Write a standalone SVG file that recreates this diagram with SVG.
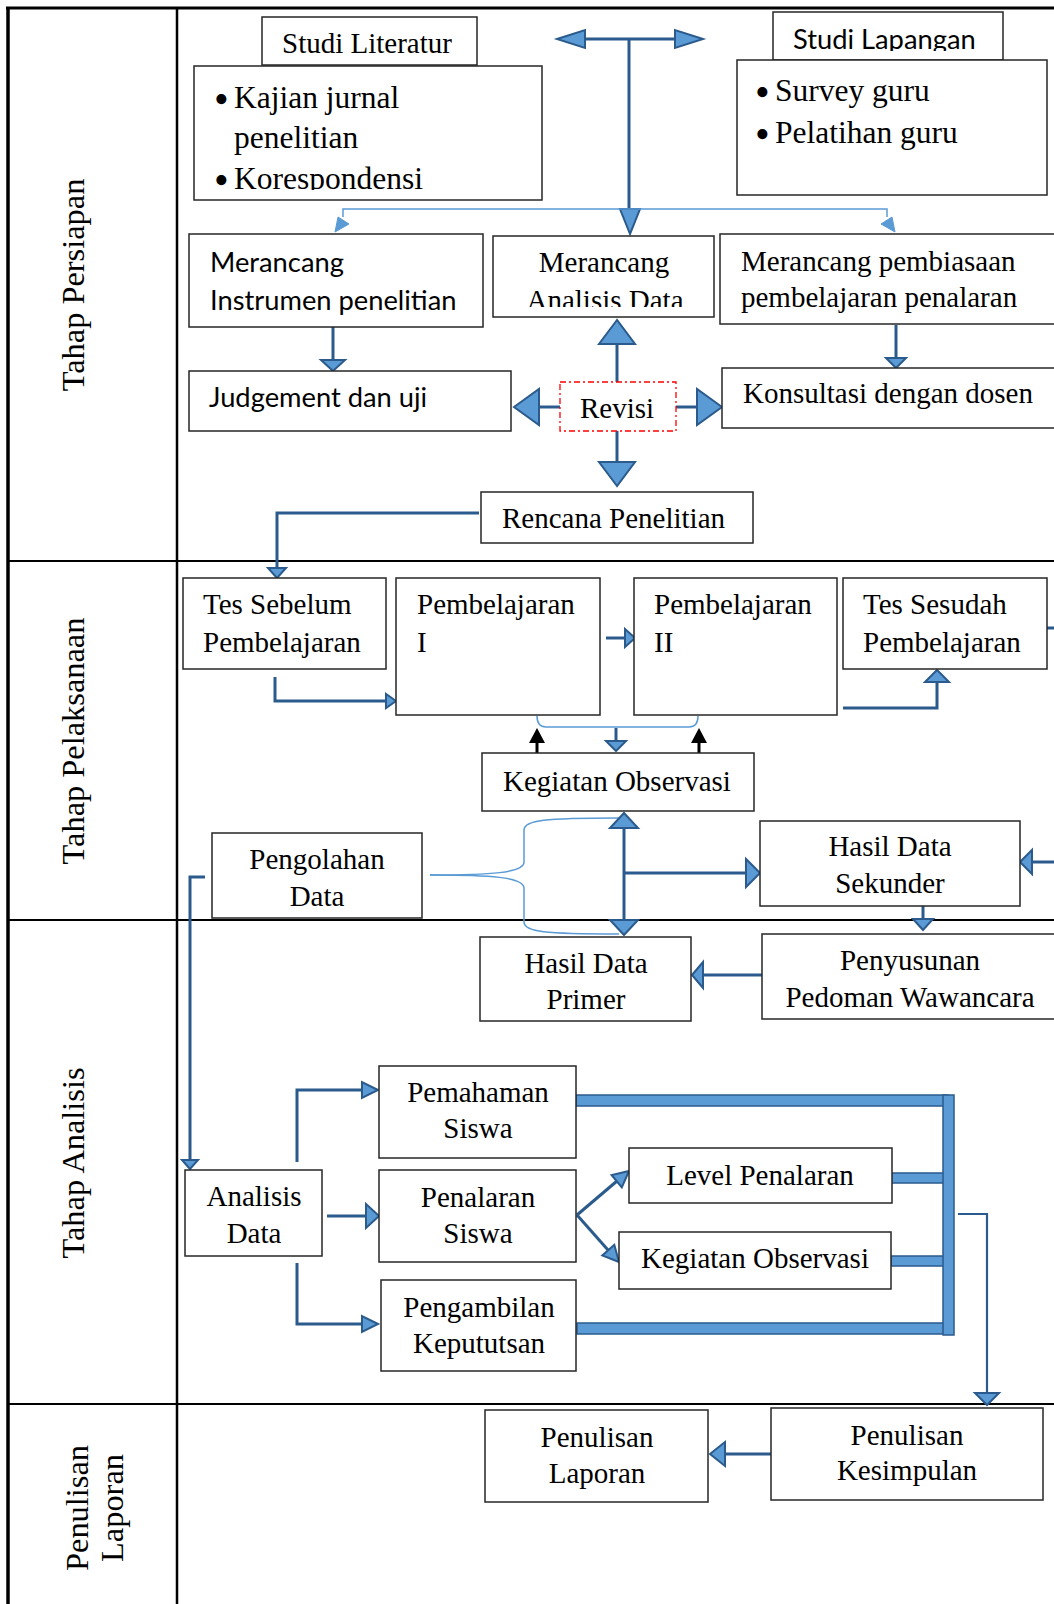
<svg xmlns="http://www.w3.org/2000/svg" width="1054" height="1604" viewBox="0 0 1054 1604">
<style>
.bg{fill:#fff}
.tb{stroke:#000;fill:none}
.bx{fill:#fff;stroke:#262626;stroke-width:1.5}
.rv{fill:#fff;stroke:#ff0000;stroke-width:1.3;stroke-dasharray:6 3 2 3}
.t{font-family:"Liberation Serif","Times New Roman",serif;font-size:29px;fill:#000}
.tc{text-anchor:middle}
.tl{font-family:"Liberation Serif","Times New Roman",serif;font-size:31.5px;fill:#000}
.lab{font-family:"Liberation Serif","Times New Roman",serif;font-size:32.4px;fill:#000;text-anchor:middle}
.bu{font-family:"Liberation Serif","Times New Roman",serif;font-size:42px;fill:#000}
.s{font-family:Lato,"Liberation Sans",sans-serif;font-size:27.3px;fill:#000}
.ln{stroke:#2b5b8c;stroke-width:3;fill:none}
.ln2{stroke:#2b5b8c;stroke-width:2.2;fill:none}
.lb{stroke:#5b9bd5;stroke-width:1.5;fill:none}
.ah{fill:#5b9bd5;stroke:#2b5b8c;stroke-width:2;stroke-linejoin:miter}
.al{fill:#5b9bd5;stroke:#5b9bd5;stroke-width:1}
.bk{stroke:#000;stroke-width:3;fill:none}
.ak{fill:#000}
.bar{fill:#5b9bd5;stroke:#2b5b8c;stroke-width:1.5}
</style>
<defs>
<clipPath id="cLap"><rect x="770" y="10" width="240" height="41"/></clipPath>
<clipPath id="cKaj"><rect x="195" y="67" width="345" height="123"/></clipPath>
<clipPath id="cAD"><rect x="494" y="237" width="219" height="70"/></clipPath>
</defs>
<rect class="bg" x="0" y="0" width="1054" height="1604"/>

<g id="table">
<line class="tb" x1="6" y1="8" x2="1054" y2="8" stroke-width="3"/>
<line class="tb" x1="8" y1="7" x2="8" y2="1604" stroke-width="3.5"/>
<line class="tb" x1="177" y1="8" x2="177" y2="1604" stroke-width="2.5"/>
<line class="tb" x1="8" y1="561" x2="1054" y2="561" stroke-width="2"/>
<line class="tb" x1="8" y1="920" x2="1054" y2="920" stroke-width="2"/>
<line class="tb" x1="8" y1="1404" x2="1054" y2="1404" stroke-width="2"/>
<text class="lab" transform="translate(84,285) rotate(-90)">Tahap Persiapan</text>
<text class="lab" transform="translate(84,741) rotate(-90)">Tahap Pelaksanaan</text>
<text class="lab" transform="translate(84,1163) rotate(-90)">Tahap Analisis</text>
<text class="lab" transform="translate(88,1508) rotate(-90)">Penulisan</text>
<text class="lab" transform="translate(123,1508) rotate(-90)">Laporan</text>
</g>

<g id="connectors">
<line class="ln" x1="584" y1="39" x2="676" y2="39"/>
<line class="ln" x1="629" y1="39" x2="629" y2="210"/>
<polygon class="ah" points="557,39 585,30 585,48"/>
<polygon class="ah" points="703,39 675,30 675,48"/>
<polygon class="ah" points="630,234 620,209 640,209"/>
<path class="lb" d="M343,217 L343,209 L887,209 L887,217"/>
<polygon class="al" points="335,232 338,217 349,224"/>
<polygon class="al" points="895,232 892,217 881,224"/>
<line class="ln" x1="333" y1="327" x2="333" y2="360"/>
<polygon class="ah" points="333,371 321,360 345,360"/>
<line class="ln" x1="617" y1="382" x2="617" y2="344"/>
<polygon class="ah" points="617,320 599,344 635,344"/>
<line class="ln" x1="560" y1="407" x2="539" y2="407"/>
<polygon class="ah" points="514,407 539,389 539,425"/>
<line class="ln" x1="676" y1="407" x2="697" y2="407"/>
<polygon class="ah" points="722,407 697,389 697,425"/>
<line class="ln" x1="617" y1="431" x2="617" y2="462"/>
<polygon class="ah" points="617,486 599,462 635,462"/>
<line class="ln" x1="896" y1="325" x2="896" y2="358"/>
<polygon class="ah" points="896,368 886,358 906,358"/>
<path class="ln" d="M479,513 L277,513 L277,568"/>
<polygon class="ah" points="277,578 268,568 286,568"/>
<path class="ln" d="M275,677 L275,701 L386,701"/>
<polygon class="ah" points="396,701 386,694 386,708"/>
<line class="ln" x1="606" y1="638" x2="625" y2="638"/>
<polygon class="ah" points="635,638 625,629 625,647"/>
<path class="ln" d="M843,708 L937,708 L937,682"/>
<polygon class="ah" points="937,670 925,682 949,682"/>
<line class="ln" x1="1020" y1="628" x2="1054" y2="628"/>
<path class="lb" d="M537,716 Q537,727 546,727 L689,727 Q698,727 698,716"/>
<line class="bk" x1="537" y1="753" x2="537" y2="741"/>
<polygon class="ak" points="537,728 529,743 545,743"/>
<line class="bk" x1="699" y1="753" x2="699" y2="741"/>
<polygon class="ak" points="699,728 691,743 707,743"/>
<line class="ln" x1="616" y1="728" x2="616" y2="741"/>
<polygon class="ah" points="616,751 606,741 626,741"/>
<path class="lb" d="M430,875 C490,875 524,873 524,862 L524,830 C524,820 545,818 619,818"/>
<path class="lb" d="M430,875 C490,875 524,877 524,888 L524,922 C524,932 545,934 619,934"/>
<line class="ln" x1="624" y1="828" x2="624" y2="920"/>
<polygon class="ah" points="624,813 610,828 638,828"/>
<polygon class="ah" points="624,935 610,920 638,920"/>
<line class="ln" x1="624" y1="873" x2="746" y2="873"/>
<polygon class="ah" points="760,873 746,859 746,887"/>
<line class="ln" x1="1054" y1="862" x2="1032" y2="862"/>
<polygon class="ah" points="1020,862 1032,850 1032,874"/>
<line class="ln" x1="923" y1="906" x2="923" y2="919"/>
<polygon class="ah" points="923,930 913,919 933,919"/>
<line class="ln" x1="762" y1="975" x2="703" y2="975"/>
<polygon class="ah" points="692,975 703,962 703,988"/>
<path class="ln" d="M205,877 L190,877 L190,1160"/>
<polygon class="ah" points="190,1169 182,1160 198,1160"/>
<path class="ln" d="M297,1162 L297,1090 L362,1090"/>
<polygon class="ah" points="378,1090 362,1082 362,1098"/>
<line class="ln" x1="327" y1="1216" x2="366" y2="1216"/>
<polygon class="ah" points="379,1216 366,1204 366,1228"/>
<path class="ln" d="M297,1263 L297,1324 L362,1324"/>
<polygon class="ah" points="378,1324 362,1316 362,1332"/>
<line class="ln" x1="577" y1="1215" x2="617" y2="1181"/>
<polygon class="ah" points="629,1171 621.8,1187.4 611.6,1175"/>
<line class="ln" x1="577" y1="1215" x2="608" y2="1250"/>
<polygon class="ah" points="619,1262 602.3,1255.4 614.3,1244.8"/>
<rect class="bar" x="576" y="1095" width="372" height="11"/>
<rect class="bar" x="891" y="1173" width="55" height="10"/>
<rect class="bar" x="891" y="1256" width="55" height="10"/>
<rect class="bar" x="577" y="1323" width="371" height="11"/>
<rect class="bar" x="943" y="1095" width="11" height="240"/>
<path class="ln2" d="M958,1214 L987,1214 L987,1393"/>
<polygon class="ah" points="987,1405 975,1393 999,1393"/>
<line class="ln" x1="771" y1="1454" x2="725" y2="1454"/>
<polygon class="ah" points="710,1454 725,1442 725,1466"/>
</g>

<g id="studi-literatur">
<rect class="bx" x="262" y="17" width="215" height="48"/>
<text class="t" x="282" y="53">Studi Literatur</text>
</g>
<g id="kajian">
<rect class="bx" x="194" y="66" width="348" height="134"/>
<g clip-path="url(#cKaj)">
<text class="bu" x="214" y="113">•</text>
<text class="tl" x="234" y="108">Kajian jurnal</text>
<text class="tl" x="234" y="148">penelitian</text>
<text class="bu" x="214" y="194">•</text>
<text class="tl" x="234" y="189">Korespondensi</text>
</g>
</g>
<g id="studi-lapangan">
<rect class="bx" x="773" y="12" width="230" height="48"/>
<text class="s" x="793" y="49" clip-path="url(#cLap)">Studi Lapangan</text>
</g>
<g id="survey">
<rect class="bx" x="737" y="60" width="310" height="135"/>
<text class="bu" x="755" y="106">•</text>
<text class="tl" x="775" y="101">Survey guru</text>
<text class="bu" x="755" y="148">•</text>
<text class="tl" x="775" y="143">Pelatihan guru</text>
</g>
<g id="merancang-instrumen">
<rect class="bx" x="189" y="234" width="294" height="93"/>
<text class="s" x="210" y="272">Merancang</text>
<text class="s" x="210" y="310">Instrumen penelitian</text>
</g>
<g id="merancang-analisis">
<rect class="bx" x="493" y="236" width="221" height="81"/>
<text class="t tc" x="604" y="272">Merancang</text>
<text class="t tc" x="605" y="310" clip-path="url(#cAD)">Analisis Data</text>
</g>
<g id="merancang-pembiasaan">
<rect class="bx" x="720" y="234" width="345" height="90"/>
<text class="t" x="741" y="271">Merancang pembiasaan</text>
<text class="t" x="741" y="307">pembelajaran penalaran</text>
</g>
<g id="judgement">
<rect class="bx" x="189" y="371" width="322" height="60"/>
<text class="s" x="209" y="407">Judgement dan uji</text>
</g>
<g id="revisi">
<rect class="rv" x="560" y="382" width="116" height="49"/>
<text class="t tc" x="617" y="418">Revisi</text>
</g>
<g id="konsultasi">
<rect class="bx" x="722" y="368" width="345" height="60"/>
<text class="t" x="743" y="403">Konsultasi dengan dosen</text>
</g>
<g id="rencana">
<rect class="bx" x="481" y="492" width="272" height="51"/>
<text class="t" x="502" y="528">Rencana Penelitian</text>
</g>
<g id="tes-sebelum">
<rect class="bx" x="183" y="578" width="203" height="91"/>
<text class="t" x="203" y="614">Tes Sebelum</text>
<text class="t" x="203" y="652">Pembelajaran</text>
</g>
<g id="pembelajaran-1">
<rect class="bx" x="396" y="578" width="204" height="137"/>
<text class="t" x="417" y="614">Pembelajaran</text>
<text class="t" x="417" y="652">I</text>
</g>
<g id="pembelajaran-2">
<rect class="bx" x="634" y="578" width="203" height="137"/>
<text class="t" x="654" y="614">Pembelajaran</text>
<text class="t" x="654" y="652">II</text>
</g>
<g id="tes-sesudah">
<rect class="bx" x="843" y="578" width="204" height="91"/>
<text class="t" x="863" y="614">Tes Sesudah</text>
<text class="t" x="863" y="652">Pembelajaran</text>
</g>
<g id="kegiatan-observasi-1">
<rect class="bx" x="482" y="753" width="272" height="58"/>
<text class="t" x="503" y="791">Kegiatan Observasi</text>
</g>
<g id="pengolahan">
<rect class="bx" x="212" y="833" width="210" height="85"/>
<text class="t tc" x="317" y="869">Pengolahan</text>
<text class="t tc" x="317" y="906">Data</text>
</g>
<g id="hasil-sekunder">
<rect class="bx" x="760" y="821" width="260" height="85"/>
<text class="t tc" x="890" y="856">Hasil Data</text>
<text class="t tc" x="890" y="893">Sekunder</text>
</g>
<g id="penyusunan">
<rect class="bx" x="762" y="934" width="300" height="85"/>
<text class="t tc" x="910" y="970">Penyusunan</text>
<text class="t tc" x="910" y="1007">Pedoman Wawancara</text>
</g>
<g id="hasil-primer">
<rect class="bx" x="480" y="937" width="211" height="84"/>
<text class="t tc" x="586" y="973">Hasil Data</text>
<text class="t tc" x="586" y="1009">Primer</text>
</g>
<g id="pemahaman">
<rect class="bx" x="379" y="1066" width="197" height="92"/>
<text class="t tc" x="478" y="1102">Pemahaman</text>
<text class="t tc" x="478" y="1138">Siswa</text>
</g>
<g id="analisis-data">
<rect class="bx" x="185" y="1170" width="137" height="86"/>
<text class="t tc" x="254" y="1206">Analisis</text>
<text class="t tc" x="254" y="1243">Data</text>
</g>
<g id="penalaran">
<rect class="bx" x="379" y="1170" width="197" height="92"/>
<text class="t tc" x="478" y="1207">Penalaran</text>
<text class="t tc" x="478" y="1243">Siswa</text>
</g>
<g id="pengambilan">
<rect class="bx" x="381" y="1280" width="195" height="91"/>
<text class="t tc" x="479" y="1317">Pengambilan</text>
<text class="t tc" x="479" y="1353">Kepututsan</text>
</g>
<g id="level-penalaran">
<rect class="bx" x="629" y="1148" width="263" height="55"/>
<text class="t tc" x="760" y="1185">Level Penalaran</text>
</g>
<g id="kegiatan-observasi-2">
<rect class="bx" x="619" y="1232" width="272" height="57"/>
<text class="t tc" x="755" y="1268">Kegiatan Observasi</text>
</g>
<g id="penulisan-laporan">
<rect class="bx" x="485" y="1410" width="223" height="92"/>
<text class="t tc" x="597" y="1447">Penulisan</text>
<text class="t tc" x="597" y="1483">Laporan</text>
</g>
<g id="penulisan-kesimpulan">
<rect class="bx" x="771" y="1408" width="272" height="92"/>
<text class="t tc" x="907" y="1445">Penulisan</text>
<text class="t tc" x="907" y="1480">Kesimpulan</text>
</g>
</svg>
